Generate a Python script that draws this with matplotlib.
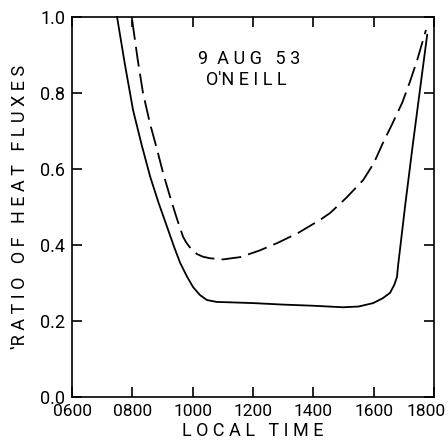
import matplotlib
matplotlib.use("Agg")
import matplotlib.pyplot as plt
from matplotlib import font_manager

names = {f.name for f in font_manager.fontManager.ttflist}
fam = next((n for n in ["Roboto", "Open Sans", "DejaVu Sans"] if n in names), "DejaVu Sans")
plt.rcParams['font.family'] = [fam, 'DejaVu Sans']
plt.rcParams['xtick.direction'] = 'in'
plt.rcParams['ytick.direction'] = 'in'
plt.rcParams['xtick.top'] = True
plt.rcParams['ytick.right'] = True
plt.rcParams['xtick.major.size'] = 7
plt.rcParams['ytick.major.size'] = 7
plt.rcParams['xtick.major.width'] = 1.2
plt.rcParams['ytick.major.width'] = 1.2
plt.rcParams['xtick.color'] = 'black'
plt.rcParams['ytick.color'] = 'black'

# Data (local time in hours, ratio of heat fluxes)
solid_t = [7.49, 7.75, 8.02, 8.30, 8.59, 8.87, 9.15, 9.38, 9.58, 9.80, 10.01, 10.24, 10.47, 10.8,
           11.24, 12.0, 13.0, 14.0, 14.98, 15.5, 15.98, 16.3, 16.54, 16.68, 16.77, 16.8, 17.05, 17.3, 17.55, 17.77]
solid_v = [1.0, 0.875, 0.755, 0.665, 0.579, 0.51, 0.447, 0.395, 0.353, 0.318, 0.289, 0.268, 0.255, 0.25,
           0.249, 0.247, 0.243, 0.240, 0.236, 0.238, 0.247, 0.26, 0.274, 0.295, 0.316, 0.342, 0.51, 0.668, 0.82, 0.953]

dash_t = [7.99, 8.17, 8.35, 8.58, 8.82, 9.03, 9.25, 9.47, 9.68, 9.78, 9.88, 9.98, 10.14, 10.34, 10.57,
          11.0, 11.57, 12.2, 12.8, 13.5, 14.22, 14.55, 15.1, 15.65, 16.0, 16.3, 16.62, 16.94, 17.2, 17.44, 17.73]
dash_v = [0.992, 0.89, 0.80, 0.72, 0.65, 0.585, 0.526, 0.47, 0.421, 0.407, 0.396, 0.387, 0.376, 0.369, 0.365,
          0.362, 0.368, 0.385, 0.405, 0.432, 0.466, 0.484, 0.525, 0.571, 0.615, 0.668, 0.72, 0.774, 0.83, 0.887, 0.966]

x_ticks = [6, 8, 10, 12, 14, 16, 18]
x_labels = ["0600", "0800", "1000", "1200", "1400", "1600", "1800"]
y_ticks = [0.0, 0.2, 0.4, 0.6, 0.8, 1.0]
y_labels = ["0.0", "0.2", "0.4", "0.6", "0.8", "1.0"]

fig = plt.figure(figsize=(4.48, 4.48), dpi=100)
ax = fig.add_axes([0.161, 0.114, 0.808, 0.848])

ax.plot(solid_t, solid_v, color='black', lw=1.3, clip_on=False, solid_joinstyle='round')
ax.plot(dash_t, dash_v, color='black', lw=1.3, dashes=(11, 4), clip_on=False)

ax.set_xlim(6, 18)
ax.set_ylim(0, 1.0)
ax.set_xticks(x_ticks)
# last label is drawn separately (shifted left so it fits, as in the original)
ax.set_xticklabels(x_labels[:-1] + [""], fontsize=12.5)
ax.set_yticks(y_ticks)
ax.set_yticklabels(y_labels, fontsize=13)
ax.tick_params(which='major', direction='in', length=7, width=1.2, color='black',
               bottom=True, left=True, top=True, right=True, pad=5)
for s in ax.spines.values():
    s.set_linewidth(1.2)

ax.annotate(x_labels[-1], xy=(x_ticks[-1], 0), xycoords=('data', 'axes fraction'),
            xytext=(-6, -5), textcoords='offset points', ha='center', va='top', fontsize=12.5)

ax.set_xlabel("L O C A L   T I M E", fontsize=13, labelpad=2)
ax.set_ylabel("‛R A T I O   O F   H E A T   F L U X E S", fontsize=13, labelpad=8)

ax.text(0.49, 0.89, "9  A U G   5 3", transform=ax.transAxes, ha='center', va='center', fontsize=13)
ax.text(0.481, 0.833, "O'N E I L L", transform=ax.transAxes, ha='center', va='center', fontsize=13)

fig.savefig("out.png", dpi=100)
